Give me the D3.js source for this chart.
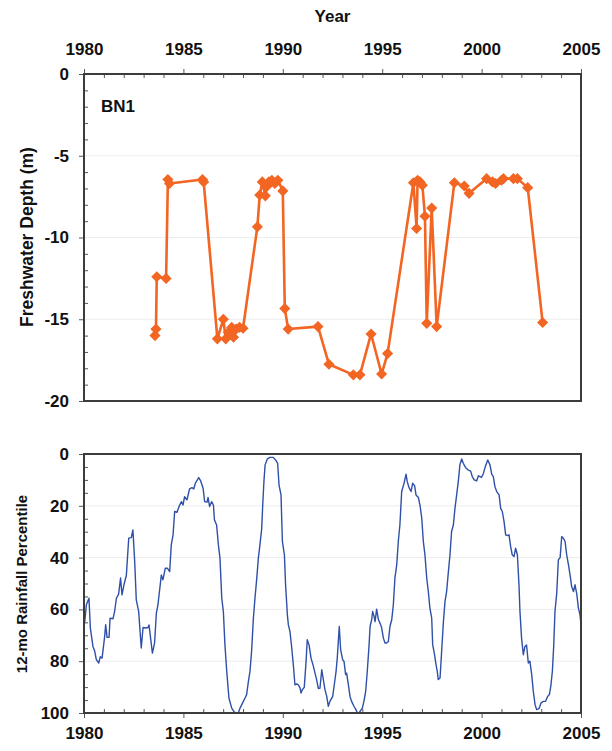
<!DOCTYPE html>
<html>
<head>
<meta charset="utf-8">
<script src="https://cdn.jsdelivr.net/npm/d3@7"></script>
<style>
  html, body { margin: 0; padding: 0; background: #ffffff; }
  svg { display: block; }
  text { font-family: "Liberation Sans", Arial, sans-serif; font-weight: bold; fill: #111; }
</style>
</head>
<body>
<script>
// ---------- DATA ----------
const xMajorTicks = [1980, 1985, 1990, 1995, 2000, 2005];
const depthTicks = [0, -5, -10, -15, -20];
const rainTicks = [0, 20, 40, 60, 80, 100];

const siteLabel = "BN1";

const depthYears = [
  1983.57, 1983.62, 1983.66, 1984.13, 1984.22, 1984.30, 1985.96, 1986.02,
  1986.71, 1987.01, 1987.13, 1987.26, 1987.43, 1987.52, 1987.65, 1987.82, 1988.00,
  1988.72, 1988.84, 1988.97, 1989.12, 1989.22, 1989.30, 1989.45, 1989.60, 1989.75,
  1990.00, 1990.10, 1990.27, 1991.77, 1992.32, 1993.55, 1993.88, 1994.44, 1994.97,
  1995.27, 1996.57, 1996.73, 1996.78, 1996.90, 1997.02, 1997.15, 1997.24, 1997.49,
  1997.74, 1998.63, 1999.13, 1999.37, 2000.25, 2000.55, 2000.70, 2001.00, 2001.10,
  2001.60, 2001.80, 2002.32, 2003.07
];
const depthValues = [
  -16.0, -15.6, -12.4, -12.5, -6.45, -6.7, -6.45, -6.6,
  -16.2, -15.0, -16.2, -15.8, -15.5, -16.1, -15.6, -15.5, -15.55,
  -9.35, -7.4, -6.6, -7.45, -6.85, -6.6, -6.5, -6.7, -6.5,
  -7.15, -14.35, -15.6, -15.45, -17.75, -18.4, -18.4, -15.9, -18.35,
  -17.1, -6.65, -9.45, -6.5, -6.6, -6.8, -8.7, -15.25, -8.2,
  -15.45, -6.65, -6.85, -7.3, -6.4, -6.6, -6.7, -6.5, -6.4,
  -6.4, -6.4, -6.95, -15.2
];

const rainYears = [
  1980.03, 1980.12, 1980.25, 1980.32, 1980.45, 1980.54, 1980.62, 1980.74, 1980.82, 1980.91,
  1981.04, 1981.09, 1981.16, 1981.26, 1981.31, 1981.46, 1981.54, 1981.63, 1981.74, 1981.84,
  1981.91, 1982.01, 1982.13, 1982.25, 1982.38, 1982.46, 1982.55, 1982.63, 1982.75, 1982.88,
  1982.97, 1983.10, 1983.22, 1983.27, 1983.35, 1983.44, 1983.55, 1983.64, 1983.72, 1983.89,
  1983.97, 1984.09, 1984.19, 1984.31, 1984.39, 1984.48, 1984.56, 1984.68, 1984.78, 1984.90,
  1984.98, 1985.06, 1985.18, 1985.31, 1985.43, 1985.52, 1985.60, 1985.77, 1985.87, 1985.99,
  1986.07, 1986.19, 1986.24, 1986.32, 1986.42, 1986.51, 1986.56, 1986.67, 1986.76, 1986.84,
  1986.93, 1987.01, 1987.09, 1987.18, 1987.29, 1987.43, 1987.56, 1987.68, 1987.76, 1987.85,
  1987.98, 1988.10, 1988.18, 1988.27, 1988.35, 1988.43, 1988.52, 1988.60, 1988.69, 1988.77,
  1988.85, 1988.94, 1988.99, 1989.05, 1989.11, 1989.22, 1989.36, 1989.52, 1989.64, 1989.74,
  1989.81, 1989.91, 1989.98, 1990.08, 1990.14, 1990.23, 1990.28, 1990.36, 1990.45, 1990.53,
  1990.61, 1990.70, 1990.78, 1990.87, 1990.92, 1990.98, 1991.08, 1991.17, 1991.23, 1991.32,
  1991.42, 1991.54, 1991.62, 1991.70, 1991.79, 1991.87, 1991.96, 1992.04, 1992.12, 1992.21,
  1992.29, 1992.37, 1992.51, 1992.59, 1992.68, 1992.74, 1992.84, 1992.91, 1993.01, 1993.08,
  1993.16, 1993.21, 1993.30, 1993.38, 1993.46, 1993.58, 1993.68, 1993.75, 1993.83, 1993.92,
  1994.00, 1994.08, 1994.17, 1994.25, 1994.34, 1994.39, 1994.47, 1994.52, 1994.59, 1994.64,
  1994.72, 1994.81, 1994.89, 1994.97, 1995.06, 1995.14, 1995.22, 1995.31, 1995.39, 1995.48,
  1995.56, 1995.64, 1995.73, 1995.81, 1995.89, 1995.98, 1996.10, 1996.20, 1996.26, 1996.35,
  1996.45, 1996.53, 1996.63, 1996.70, 1996.82, 1996.90, 1996.99, 1997.07, 1997.15, 1997.24,
  1997.32, 1997.40, 1997.49, 1997.54, 1997.62, 1997.71, 1997.77, 1997.82, 1997.91, 1997.99,
  1998.08, 1998.16, 1998.24, 1998.33, 1998.41, 1998.49, 1998.58, 1998.66, 1998.75, 1998.83,
  1998.91, 1999.00, 1999.08, 1999.20, 1999.33, 1999.45, 1999.53, 1999.63, 1999.75, 1999.84,
  1999.92, 2000.00, 2000.09, 2000.20, 2000.31, 2000.42, 2000.51, 2000.59, 2000.67, 2000.76,
  2000.88, 2000.96, 2001.04, 2001.13, 2001.21, 2001.29, 2001.38, 2001.46, 2001.54, 2001.63,
  2001.71, 2001.80, 2001.88, 2001.93, 2002.01, 2002.10, 2002.18, 2002.26, 2002.35, 2002.43,
  2002.52, 2002.60, 2002.69, 2002.77, 2002.89, 2002.99, 2003.11, 2003.22, 2003.32, 2003.41,
  2003.49, 2003.56, 2003.63, 2003.69, 2003.78, 2003.86, 2003.95, 2004.03, 2004.11, 2004.20,
  2004.28, 2004.37, 2004.45, 2004.53, 2004.62, 2004.70, 2004.79, 2004.87, 2004.95, 2005.00
];
const rainValues = [
  65.3, 58.2, 55.7, 67.2, 74.3, 76.2, 79.4, 80.7, 78.3, 78.8,
  70.4, 65.9, 70.8, 70.8, 63.4, 63.6, 60.8, 55.7, 54.1, 47.9,
  54.4, 50.5, 46.9, 32.5, 32.3, 29.3, 41.5, 56.3, 60.8, 74.9,
  67.0, 67.2, 67.0, 66.0, 71.1, 76.9, 73.0, 61.4, 58.2, 46.7,
  48.6, 44.1, 44.1, 45.4, 35.1, 31.2, 22.2, 22.5, 20.3, 18.4,
  19.7, 16.5, 17.7, 13.5, 13.0, 13.5, 11.3, 9.1, 10.4, 13.2,
  18.4, 18.6, 16.8, 20.3, 18.4, 19.7, 25.4, 27.4, 35.1, 40.2,
  55.7, 60.8, 73.7, 83.9, 94.2, 98.1, 99.7, 100, 100, 98.1,
  96.1, 94.2, 92.9, 87.8, 83.9, 76.2, 63.4, 55.7, 48.0, 40.2,
  35.1, 28.7, 19.7, 10.7, 4.2, 1.9, 1.3, 1.3, 2.3, 3.6,
  12.0, 15.8, 33.8, 38.9, 50.5, 62.1, 66.0, 68.5, 74.9, 81.4,
  89.1, 88.8, 89.1, 90.4, 92.3, 91.0, 90.1, 80.1, 71.7, 73.7,
  78.8, 82.0, 84.6, 87.1, 90.6, 90.4, 83.3, 87.1, 91.0, 93.6,
  97.4, 95.5, 93.6, 89.1, 83.9, 78.8, 66.6, 75.6, 79.4, 80.1,
  85.2, 84.6, 89.1, 93.6, 95.5, 97.4, 98.7, 100, 100, 99.0,
  98.1, 95.5, 91.6, 83.9, 73.7, 66.6, 64.0, 60.8, 62.7, 64.7,
  59.9, 64.0, 65.3, 67.0, 71.1, 73.0, 73.0, 72.4, 66.6, 64.0,
  58.2, 47.9, 42.8, 33.8, 27.4, 14.5, 11.3, 7.8, 10.7, 13.0,
  14.5, 11.3, 12.2, 15.8, 16.8, 19.7, 24.8, 33.8, 38.9, 47.9,
  53.1, 59.5, 63.4, 73.7, 76.9, 81.4, 83.9, 87.1, 86.5, 76.2,
  64.7, 56.9, 53.1, 45.4, 38.9, 29.9, 27.4, 21.0, 15.5, 10.5,
  4.0, 1.9, 3.6, 5.3, 6.2, 6.6, 8.7, 10.0, 10.4, 8.4,
  8.7, 9.0, 7.5, 4.5, 2.3, 4.2, 7.8, 8.7, 12.6, 14.5,
  15.8, 21.0, 22.2, 26.1, 31.2, 31.5, 31.2, 35.7, 38.9, 39.6,
  36.4, 38.9, 50.5, 60.8, 71.1, 77.5, 74.3, 73.7, 80.7, 80.0,
  85.2, 91.6, 96.8, 98.7, 98.3, 96.1, 95.5, 95.5, 93.6, 92.9,
  89.1, 83.9, 73.7, 60.8, 53.7, 40.9, 40.0, 31.9, 32.5, 33.8,
  38.9, 42.8, 46.7, 51.2, 53.1, 50.5, 54.2, 59.5, 62.1, 66.0
];

const texts = {
  topTitle: "Year",
  depthTitle: "Freshwater Depth (m)",
  rainTitle: "12-mo Rainfall Percentile"
};

// ---------- LAYOUT ----------
const W = 612, H = 751;
const left = 84, right = 581;
const topPanel = { y0: 74, y1: 401 };
const botPanel = { y0: 454, y1: 713 };
const orange = "#F26522";
const blue = "#2F50A8";
const frameColor = "#3c3c3c";
const gridColor = "#ededed";
const fontSize = 17;

const svg = d3.select("body").append("svg").attr("width", W).attr("height", H);

const x = d3.scaleLinear().domain([1980, 2005]).range([left, right]);
const yTop = d3.scaleLinear().domain([0, -20]).range([topPanel.y0, topPanel.y1]);
const yBot = d3.scaleLinear().domain([0, 100]).range([botPanel.y0, botPanel.y1]);

const minorYears = d3.range(1980, 2006).filter(v => v % 5 !== 0);
const minorDepth = d3.range(-19, 0).filter(v => v % 5 !== 0);
const minorRain = d3.range(5, 100, 5).filter(v => v % 20 !== 0);

function styleAxis(g) {
  g.select(".domain").remove();
  g.selectAll(".tick line").attr("stroke", "#555").attr("stroke-width", 1);
  g.selectAll(".tick text")
    .style("font-family", "'Liberation Sans', Arial, sans-serif")
    .style("font-weight", "bold")
    .style("font-size", fontSize + "px")
    .attr("fill", "#111");
}

// ---------- GRID ----------
svg.append("g").selectAll("line").data([-5, -10, -15]).join("line")
  .attr("x1", left).attr("x2", right)
  .attr("y1", d => yTop(d)).attr("y2", d => yTop(d))
  .attr("stroke", gridColor).attr("stroke-width", 1);
svg.append("g").selectAll("line").data([20, 40, 60, 80]).join("line")
  .attr("x1", left).attr("x2", right)
  .attr("y1", d => yBot(d)).attr("y2", d => yBot(d))
  .attr("stroke", gridColor).attr("stroke-width", 1);

// ---------- TOP PANEL AXES ----------
svg.append("g").attr("transform", `translate(0,${topPanel.y0})`)
  .call(d3.axisTop(x).tickValues(xMajorTicks).tickSize(5).tickPadding(14).tickFormat(d => String(d)))
  .call(styleAxis);
svg.append("g").attr("transform", `translate(0,${topPanel.y0})`)
  .call(d3.axisTop(x).tickValues(minorYears).tickSize(-4).tickFormat(""))
  .call(styleAxis);
svg.append("g").attr("transform", `translate(${left},0)`)
  .call(d3.axisLeft(yTop).tickValues(depthTicks).tickSize(5).tickPadding(10).tickFormat(d => String(d)))
  .call(styleAxis);
svg.append("g").attr("transform", `translate(${left},0)`)
  .call(d3.axisLeft(yTop).tickValues(minorDepth).tickSize(-4).tickFormat(""))
  .call(styleAxis);

// ---------- BOTTOM PANEL AXES ----------
svg.append("g").attr("transform", `translate(0,${botPanel.y1})`)
  .call(d3.axisBottom(x).tickValues(xMajorTicks).tickSize(5).tickPadding(9).tickFormat(d => String(d)))
  .call(styleAxis);
svg.append("g").attr("transform", `translate(0,${botPanel.y1})`)
  .call(d3.axisBottom(x).tickValues(minorYears).tickSize(-4).tickFormat(""))
  .call(styleAxis);
svg.append("g").attr("transform", `translate(${left},0)`)
  .call(d3.axisLeft(yBot).tickValues(rainTicks).tickSize(5).tickPadding(10).tickFormat(d => String(d)))
  .call(styleAxis);
svg.append("g").attr("transform", `translate(${left},0)`)
  .call(d3.axisLeft(yBot).tickValues(minorRain).tickSize(-4).tickFormat(""))
  .call(styleAxis);

// ---------- DEPTH SERIES ----------
const depthData = depthYears.map((d, i) => ({ year: d, val: depthValues[i] }));
svg.append("path").datum(depthData)
  .attr("fill", "none").attr("stroke", orange).attr("stroke-width", 2.6)
  .attr("stroke-linejoin", "round")
  .attr("d", d3.line().x(d => x(d.year)).y(d => yTop(d.val)));
svg.append("g").selectAll("path").data(depthData).join("path")
  .attr("d", d3.symbol().type(d3.symbolSquare).size(62))
  .attr("transform", d => `translate(${x(d.year)},${yTop(d.val)}) rotate(45)`)
  .attr("fill", orange);

// ---------- RAIN SERIES ----------
const rainData = rainYears.map((d, i) => ({ year: d, val: rainValues[i] }));
svg.append("path").datum(rainData)
  .attr("fill", "none").attr("stroke", blue).attr("stroke-width", 1.4)
  .attr("stroke-linejoin", "round")
  .attr("d", d3.line().x(d => x(d.year)).y(d => yBot(d.val)));

// ---------- FRAMES ----------
svg.append("rect").attr("x", left).attr("y", topPanel.y0)
  .attr("width", right - left).attr("height", topPanel.y1 - topPanel.y0)
  .attr("fill", "none").attr("stroke", frameColor).attr("stroke-width", 2);
svg.append("rect").attr("x", left).attr("y", botPanel.y0)
  .attr("width", right - left).attr("height", botPanel.y1 - botPanel.y0)
  .attr("fill", "none").attr("stroke", frameColor).attr("stroke-width", 2);

// ---------- TEXT LABELS ----------
svg.append("text").attr("x", (left + right) / 2).attr("y", 22)
  .attr("text-anchor", "middle").style("font-size", "17px").text(texts.topTitle);
svg.append("text").attr("x", 101).attr("y", 112)
  .style("font-size", "17px").text(siteLabel);
svg.append("text").attr("transform", "translate(33,237) rotate(-90)")
  .attr("text-anchor", "middle").style("font-size", "17.5px").text(texts.depthTitle);
svg.append("text").attr("transform", "translate(27,584) rotate(-90)")
  .attr("text-anchor", "middle").style("font-size", "15px").text(texts.rainTitle);
</script>
</body>
</html>
